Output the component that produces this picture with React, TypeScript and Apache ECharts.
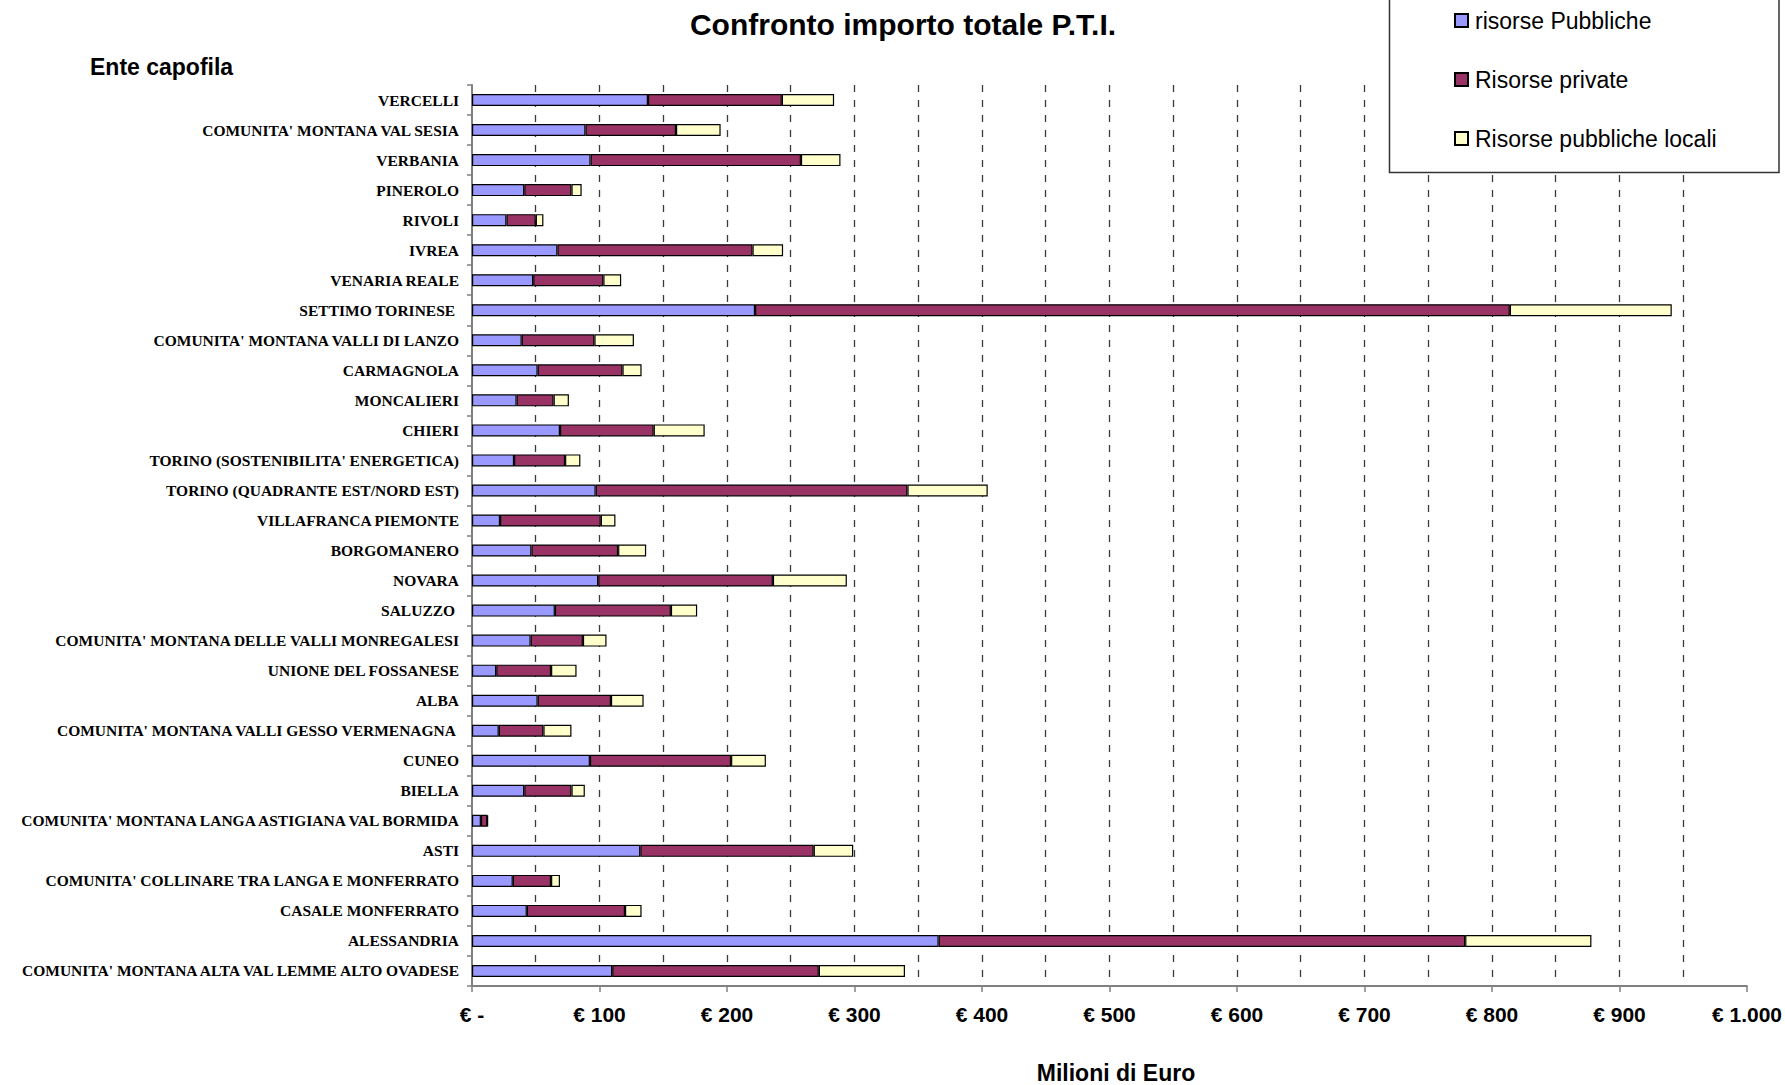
import React, { useEffect, useRef } from "react";
import * as echarts from "echarts";

const categories = [
  "VERCELLI",
  "COMUNITA' MONTANA VAL SESIA",
  "VERBANIA",
  "PINEROLO",
  "RIVOLI",
  "IVREA",
  "VENARIA REALE",
  "SETTIMO TORINESE ",
  "COMUNITA' MONTANA VALLI DI LANZO",
  "CARMAGNOLA",
  "MONCALIERI",
  "CHIERI",
  "TORINO (SOSTENIBILITA' ENERGETICA)",
  "TORINO (QUADRANTE EST/NORD EST)",
  "VILLAFRANCA PIEMONTE",
  "BORGOMANERO",
  "NOVARA",
  "SALUZZO ",
  "COMUNITA' MONTANA DELLE VALLI MONREGALESI",
  "UNIONE DEL FOSSANESE",
  "ALBA",
  "COMUNITA' MONTANA VALLI GESSO VERMENAGNA ",
  "CUNEO",
  "BIELLA",
  "COMUNITA' MONTANA LANGA ASTIGIANA VAL BORMIDA",
  "ASTI",
  "COMUNITA' COLLINARE TRA LANGA E MONFERRATO",
  "CASALE MONFERRATO",
  "ALESSANDRIA",
  "COMUNITA' MONTANA ALTA VAL LEMME ALTO OVADESE",
];

const risorsePubbliche = [138, 89, 93, 41, 27, 67, 48, 222, 39, 51.5, 35, 69, 33, 97, 22, 46.6, 99, 65, 46, 19, 51.5, 21, 92.5, 41, 7, 132, 32, 43, 366, 110];
const risorsePrivate = [105, 71, 165, 37, 23, 153, 55, 592, 57, 66.5, 29, 73.5, 40, 244.5, 79, 68, 137, 91, 41, 43, 57.5, 35, 110.7, 37, 5, 136, 30, 77, 413, 162];
const risorseLocali = [41, 35, 31, 8, 6, 24, 14, 127, 31, 15, 12, 40, 12, 63, 11.5, 22, 58, 20.6, 18.5, 20, 25.6, 22, 27.3, 10.5, 0.5, 31, 7, 13, 99, 67.6];

const xTickLabels = ["€ -", "€ 100", "€ 200", "€ 300", "€ 400", "€ 500", "€ 600", "€ 700", "€ 800", "€ 900", "€ 1.000"];
const seriesNames = ["risorse Pubbliche", "Risorse private", "Risorse pubbliche locali"];
const seriesColors = ["#9999FF", "#993366", "#FFFFCC"];

const SANS = "Liberation Sans, Arial, sans-serif";
const SERIF = "Liberation Serif, Times New Roman, serif";

export default function App() {
  const ref = useRef<HTMLDivElement>(null);

  useEffect(() => {
    if (!ref.current) return;
    const chart = echarts.init(ref.current, null, { renderer: "svg" });
    const values = [risorsePubbliche, risorsePrivate, risorseLocali];
    const gridDash = { type: [7, 8], color: "#3a3a3a", width: 1.3 };

    chart.setOption({
      animation: false,
      backgroundColor: "#ffffff",
      graphic: [
        {
          type: "text",
          x: 903,
          y: 24,
          style: {
            text: "Confronto importo totale P.T.I.",
            font: `bold 30px ${SANS}`,
            fill: "#000",
            align: "center",
            verticalAlign: "middle",
          },
        },
        {
          type: "text",
          x: 90,
          y: 67,
          style: {
            text: "Ente capofila",
            font: `bold 23px ${SANS}`,
            fill: "#000",
            align: "left",
            verticalAlign: "middle",
          },
        },
        {
          type: "text",
          x: 1116,
          y: 1073,
          style: {
            text: "Milioni di Euro",
            font: `bold 23px ${SANS}`,
            fill: "#000",
            align: "center",
            verticalAlign: "middle",
          },
        },
        {
          type: "rect",
          z: 10,
          shape: { x: 1389.5, y: -2, width: 389.5, height: 174.5 },
          style: { fill: "#ffffff", stroke: "#333", lineWidth: 1.5 },
        },
      ],
      legend: {
        z: 20,
        orient: "vertical",
        left: 1449,
        top: 4,
        itemWidth: 13,
        itemHeight: 13,
        itemGap: 36,
        icon: "rect",
        textStyle: {
          fontFamily: SANS,
          fontSize: 23,
          color: "#000",
          padding: [0, 0, 0, 2],
        },
        data: seriesNames,
      },
      grid: { left: 472, right: 38, top: 85, bottom: 99, containLabel: false },
      xAxis: {
        type: "value",
        min: 0,
        max: 1000,
        interval: 100,
        axisLine: { show: true, lineStyle: { color: "#808080", width: 2 } },
        axisTick: { show: true, length: 6, lineStyle: { color: "#808080", width: 1.5 } },
        axisLabel: {
          formatter: (v: number) => xTickLabels[Math.round(v / 100)] ?? "",
          fontFamily: SANS,
          fontWeight: "bold",
          fontSize: 21,
          color: "#000",
          margin: 18,
        },
        splitLine: {
          show: true,
          showMinLine: false,
          showMaxLine: false,
          lineStyle: gridDash,
        },
        minorTick: { show: false, splitNumber: 2 },
        minorSplitLine: { show: true, lineStyle: gridDash },
      },
      yAxis: {
        type: "category",
        data: categories,
        inverse: true,
        axisLine: { show: true, lineStyle: { color: "#808080", width: 2 } },
        axisTick: { show: true, length: 5, lineStyle: { color: "#808080", width: 1.5 } },
        axisLabel: {
          fontFamily: SERIF,
          fontWeight: "bold",
          fontSize: 15.5,
          color: "#000",
          margin: 13,
        },
        splitLine: { show: false },
      },
      series: seriesNames.map((name, i) => ({
        name,
        type: "bar",
        stack: "totale",
        barWidth: 12,
        data: values[i],
        itemStyle: { color: seriesColors[i], borderColor: "#000", borderWidth: 1.2 },
        emphasis: { disabled: true },
      })),
    });

    return () => chart.dispose();
  }, []);

  return (
    <div
      ref={ref}
      style={{ position: "absolute", left: 0, top: 0, width: 1785, height: 1085 }}
    />
  );
}
